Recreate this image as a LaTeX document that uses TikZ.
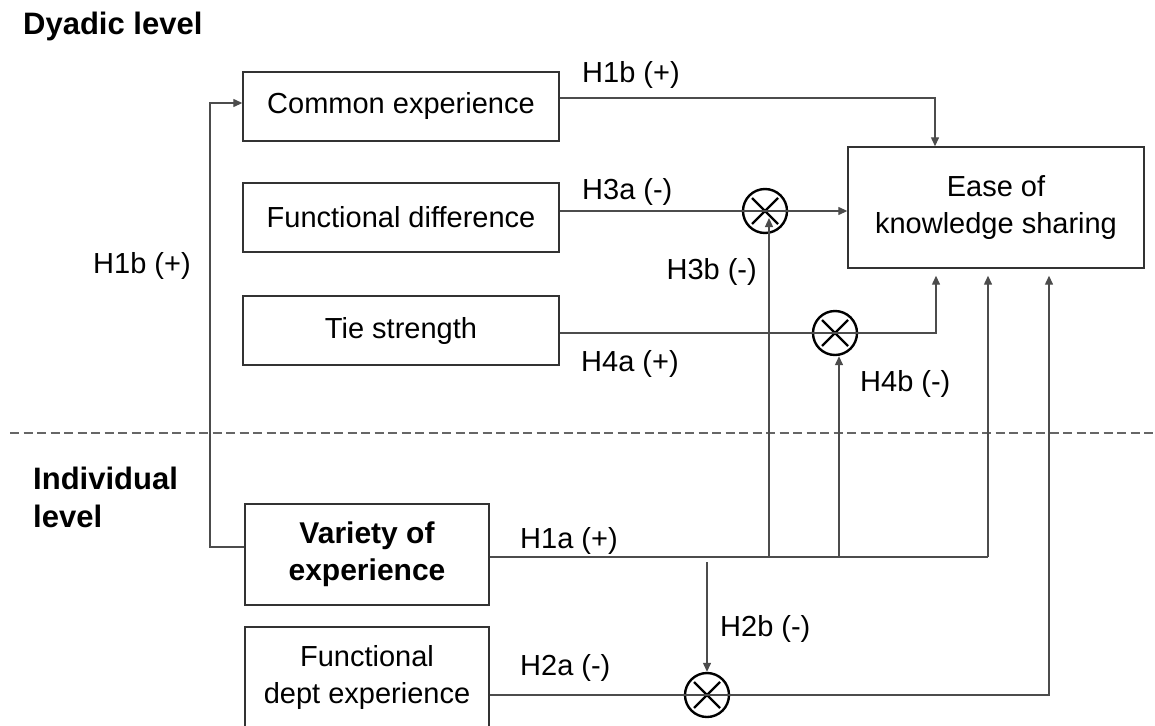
\documentclass[tikz,border=0pt]{standalone}
\usepackage{fontspec}
\setmainfont{Liberation Sans}
\usetikzlibrary{arrows.meta}

\begin{document}
\begin{tikzpicture}[x=1pt,y=-1pt,
  every node/.style={font=\fontsize{29}{37}\selectfont},
  box/.style={draw=black!80, line width=1.4pt, inner sep=0pt, align=center},
  topbox/.style={box, minimum width=316pt, minimum height=69pt},
  lowbox/.style={box, minimum width=244pt, minimum height=101pt},
  link/.style={draw=black!70, line width=1.3pt},
  arr/.style={link, -{Triangle[length=9pt,width=8pt]}},
  mult/.style={circle, draw=black, line width=2.4pt, minimum size=44pt, inner sep=0pt,
    path picture={\draw[line width=2.4pt]
      ([shift={(-13pt,13pt)}]path picture bounding box.center) -- ([shift={(13pt,-13pt)}]path picture bounding box.center)
      ([shift={(13pt,13pt)}]path picture bounding box.center) -- ([shift={(-13pt,-13pt)}]path picture bounding box.center);}},
  lbl/.style={inner sep=0pt, anchor=base west},
  head/.style={inner sep=0pt, anchor=base west, font=\fontsize{31}{38}\selectfont\bfseries}
]
\clip (0,0) rectangle (1155,725);

% level headings and separator
\node[head] (dyadic) at (23,35) {Dyadic level};
\node[head] (indiv1) at (33,489) {Individual};
\node[head] (indiv2) at (33,527) {level};
\coordinate (sepL) at (10,433);
\coordinate (sepR) at (1155,433);
\draw[black!60, line width=1.2pt, dash pattern=on 9pt off 4.5pt] (sepL) -- (sepR);

% boxes
\node[topbox] (common) at (401,106.5) {Common experience};
\node[topbox] (fdiff) at (401,217.5) {Functional difference};
\node[topbox] (tie) at (401,330.5) {Tie strength};
\node[box, minimum width=296pt, minimum height=121pt] (ease) at (996,207.5) {Ease of\\knowledge sharing};
\node[lowbox, font=\fontsize{30}{37}\selectfont\bfseries] (variety) at (367,554.5) {Variety of\\experience};
\node[lowbox] (fdept) at (367,677.5) {Functional\\dept experience};

% interaction nodes
\node[mult] (m1) at (765,211) {};
\node[mult] (m2) at (835,333) {};
\node[mult] (m3) at (707,695) {};

% routing points
\coordinate (ctop) at (935,98);
\coordinate (tcorner) at (936,333);
\coordinate (j1) at (769,557);
\coordinate (j2) at (839,557);
\coordinate (j3) at (988,557);
\coordinate (m1in) at (769,218);
\coordinate (loopA) at (210,547);
\coordinate (loopB) at (210,103);
\coordinate (h2b) at (707,562);
\coordinate (bcorner) at (1049,695);

% connectors
\draw[arr] (common.east |- ctop) -- (ctop) -- (ease.north -| ctop);
\draw[arr] (fdiff.east |- m1) -- (ease.west |- m1);
\draw[arr, shorten >=7pt] (tie.east |- m2) -- (tcorner) -- (ease.south -| tcorner);
\draw[link] (variety.east |- j1) -- (j3);
\draw[arr] (j1) -- (m1in);
\draw[arr] (j2) -- (j2 |- m2.south);
\draw[arr, shorten >=7pt] (j3) -- (ease.south -| j3);
\draw[arr] (variety.west |- loopA) -- (loopA) -- (loopB) -- (common.west |- loopB);
\draw[arr] (h2b) -- (m3.north);
\draw[arr, shorten >=7pt] (fdept.east |- m3) -- (bcorner) -- (ease.south -| bcorner);

% hypothesis labels
\node[lbl] (h1bTop) at (582,82) {H1b (+)};
\node[lbl] (h3a) at (582,199) {H3a (-)};
\node[lbl] (h1bLeft) at (93,273) {H1b (+)};
\node[lbl, anchor=base east] (h3b) at (757,279) {H3b (-)};
\node[lbl] (h4a) at (581,371) {H4a (+)};
\node[lbl] (h4b) at (860,391) {H4b (-)};
\node[lbl] (h1a) at (520,548) {H1a (+)};
\node[lbl] (h2blbl) at (720,636) {H2b (-)};
\node[lbl] (h2a) at (520,675) {H2a (-)};
\end{tikzpicture}
\end{document}
